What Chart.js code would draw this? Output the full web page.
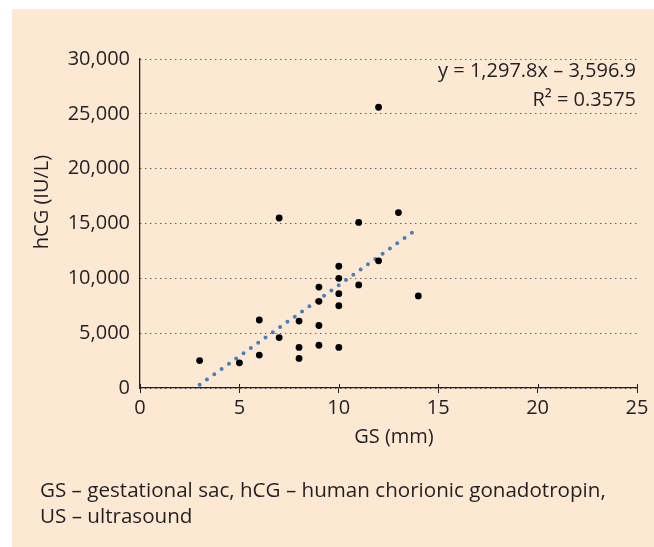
<!DOCTYPE html>
<html>
<head>
<meta charset="utf-8">
<script src="https://cdn.jsdelivr.net/npm/chart.js@4"></script>
<style>
  html, body { margin: 0; padding: 0; background: #ffffff; }
  #wrap { position: relative; width: 654px; height: 547px; }
  #panel { position: absolute; left: 12px; top: 9px; right: 0; bottom: 0; background: #fde9d3; }
  #chart { position: absolute; left: 0; top: 0; }
  #note {
    position: absolute; left: 40px; top: 476px;
    font-family: 'Open Sans', sans-serif; font-size: 20.6px; line-height: 26px; color: #231f20;
  }
</style>
</head>
<body>
<div id="wrap">
  <div id="panel"></div>
  <canvas id="chart" width="654" height="547"></canvas>
  <div id="note">GS – gestational sac, hCG – human chorionic gonadotropin,<br>US – ultrasound</div>
</div>
<script>
// GS size (mm) vs hCG (IU/L)
const gsValues = [3, 5, 6, 6, 7, 7, 8, 8, 8, 9, 9, 9, 9, 10, 10, 10, 10, 10, 11, 11, 12, 12, 13, 14];
const hcgValues = [2500, 2300, 6200, 3000, 15500, 4600, 6100, 3700, 2700, 9200, 7900, 5700, 3900,
                   11100, 10000, 8600, 7500, 3700, 15100, 9400, 25600, 11600, 16000, 8400];

// linear trend end points (x = 3 .. 13.8)
const trendX = [3, 13.8];
const trendY = [297, 14313];

const equationLines = ['y = 1,297.8x – 3,596.9', 'R² = 0.3575'];
const xTitle = 'GS (mm)';
const yTitle = 'hCG (IU/L)';

const xTicks = [0, 5, 10, 15, 20, 25];
const yTicks = [0, 5000, 10000, 15000, 20000, 25000, 30000];

const ink = '#231f20';
const fontFamily = "'Open Sans', sans-serif";

const points = gsValues.map((x, i) => ({ x: x, y: hcgValues[i] }));
const trend = trendX.map((x, i) => ({ x: x, y: trendY[i] }));

// ticks crossing the x axis, axis titles and the equation text
const extras = {
  id: 'extras',
  afterDraw(chart) {
    const ctx = chart.ctx;
    const xs = chart.scales.x;
    const area = chart.chartArea;
    ctx.save();
    ctx.strokeStyle = ink;
    ctx.lineWidth = 1;
    xTicks.forEach(v => {
      const px = Math.round(xs.getPixelForValue(v)) + 0.5;
      ctx.beginPath();
      ctx.moveTo(px, area.bottom - 4);
      ctx.lineTo(px, area.bottom);
      ctx.stroke();
    });
    ctx.fillStyle = ink;
    ctx.font = '20px ' + fontFamily;
    ctx.textAlign = 'right';
    ctx.textBaseline = 'middle';
    ctx.fillText(equationLines[0], area.right - 1, 71);
    ctx.fillText(equationLines[1], area.right - 1, 100);

    ctx.textAlign = 'center';
    ctx.fillText(xTitle, 394, 437);

    ctx.translate(42, 202);
    ctx.rotate(-Math.PI / 2);
    ctx.fillText(yTitle, 0, 0);
    ctx.restore();
  }
};

new Chart(document.getElementById('chart'), {
  type: 'scatter',
  data: {
    datasets: [
      {
        label: 'hCG',
        data: points,
        backgroundColor: '#000000',
        borderColor: '#000000',
        pointRadius: 3.4,
        pointBorderWidth: 0,
        order: 1
      },
      {
        label: 'Linear',
        type: 'line',
        data: trend,
        showLine: true,
        borderColor: '#4a7ebb',
        borderWidth: 4,
        borderDash: [0, 9],
        borderCapStyle: 'round',
        pointRadius: 0,
        fill: false,
        order: 2
      }
    ]
  },
  plugins: [extras],
  options: {
    responsive: false,
    animation: false,
    layout: { padding: { left: 0, right: 17, top: 59, bottom: 79 } },
    plugins: {
      legend: { display: false },
      tooltip: { enabled: false }
    },
    scales: {
      x: {
        type: 'linear',
        min: 0,
        max: 25,
        afterBuildTicks: s => { s.ticks = xTicks.map(v => ({ value: v })); },
        afterFit: s => { s.height = 80; },
        grid: { drawOnChartArea: false, drawTicks: true, tickLength: 5, color: ink },
        border: { color: ink, width: 1.3 },
        ticks: {
          color: ink,
          padding: 3,
          maxRotation: 0,
          font: { family: fontFamily, size: 20 }
        }
      },
      y: {
        type: 'linear',
        min: 0,
        max: 30000,
        afterBuildTicks: s => { s.ticks = yTicks.map(v => ({ value: v })); },
        afterFit: s => { s.width = 140; },
        grid: {
          drawTicks: false,
          color: ink,
          lineWidth: 1
        },
        border: { color: ink, width: 1.3, dash: [1, 4] },
        ticks: {
          color: ink,
          padding: 10,
          font: { family: fontFamily, size: 20 },
          callback: v => v.toLocaleString('en-US')
        }
      }
    }
  }
});
</script>
</body>
</html>
